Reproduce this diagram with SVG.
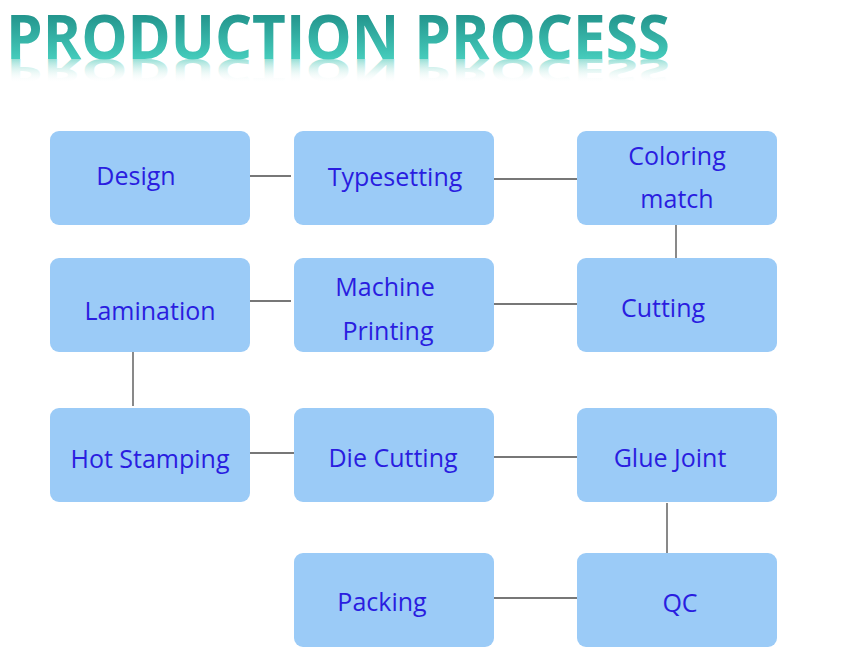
<svg xmlns="http://www.w3.org/2000/svg" width="846" height="653" viewBox="0 0 846 653">
<defs>
<linearGradient id="tg" x1="0" y1="15" x2="0" y2="58" gradientUnits="userSpaceOnUse">
<stop offset="0" stop-color="#23958d"/>
<stop offset="1" stop-color="#45cbbb"/>
</linearGradient>
<linearGradient id="rg" x1="0" y1="15" x2="0" y2="58" gradientUnits="userSpaceOnUse">
<stop offset="0" stop-color="#ffffff" stop-opacity="0"/>
<stop offset="0.45" stop-color="#bfeae4" stop-opacity="0.3"/>
<stop offset="1" stop-color="#6fd3c6" stop-opacity="0.7"/>
</linearGradient>
<style>
.box{fill:#9bcbf7;}
.lbl{font-family:"Open Sans","Noto Sans",sans-serif;font-size:25px;fill:#2a1de0;text-anchor:middle;}
.ln{stroke:#4a4a4a;stroke-width:1.3;fill:none;}
.title{font-family:"Open Sans","DejaVu Sans",sans-serif;font-weight:bold;font-size:60px;}
</style>
</defs>
<rect width="846" height="653" fill="#ffffff"/>
<g id="title">
<text class="title" x="6" y="59" fill="url(#tg)" textLength="664" lengthAdjust="spacingAndGlyphs">PRODUCTION PROCESS</text>
<g transform="translate(0,59) scale(1,-0.55) translate(0,-59)">
<text class="title" x="6" y="59" fill="url(#rg)" textLength="664" lengthAdjust="spacingAndGlyphs">PRODUCTION PROCESS</text>
</g>
</g>
<g id="connectors">
<line class="ln" x1="250" y1="176" x2="291" y2="176"/>
<line class="ln" x1="494" y1="179" x2="577" y2="179"/>
<line class="ln" x1="676" y1="225" x2="676" y2="258"/>
<line class="ln" x1="250" y1="301" x2="291" y2="301"/>
<line class="ln" x1="494" y1="304" x2="577" y2="304"/>
<line class="ln" x1="133" y1="352" x2="133" y2="406"/>
<line class="ln" x1="250" y1="453" x2="296" y2="453"/>
<line class="ln" x1="494" y1="457" x2="577" y2="457"/>
<line class="ln" x1="667" y1="503" x2="667" y2="555"/>
<line class="ln" x1="494" y1="598" x2="577" y2="598"/>
</g>
<g id="design"><rect class="box" x="50" y="131" width="200" height="94" rx="9"/><text class="lbl" x="136" y="185">Design</text></g>
<g id="typesetting"><rect class="box" x="294" y="131" width="200" height="94" rx="9"/><text class="lbl" x="395" y="186">Typesetting</text></g>
<g id="coloring"><rect class="box" x="577" y="131" width="200" height="94" rx="9"/><text class="lbl" x="677" y="165">Coloring</text><text class="lbl" x="677" y="208">match</text></g>
<g id="lamination"><rect class="box" x="50" y="258" width="200" height="94" rx="9"/><text class="lbl" x="150" y="320">Lamination</text></g>
<g id="machine-printing"><rect class="box" x="294" y="258" width="200" height="94" rx="9"/><text class="lbl" x="385" y="296">Machine</text><text class="lbl" x="388" y="340">Printing</text></g>
<g id="cutting"><rect class="box" x="577" y="258" width="200" height="94" rx="9"/><text class="lbl" x="663" y="317">Cutting</text></g>
<g id="hot-stamping"><rect class="box" x="50" y="408" width="200" height="94" rx="9"/><text class="lbl" x="150" y="468">Hot Stamping</text></g>
<g id="die-cutting"><rect class="box" x="294" y="408" width="200" height="94" rx="9"/><text class="lbl" x="393" y="467">Die Cutting</text></g>
<g id="glue-joint"><rect class="box" x="577" y="408" width="200" height="94" rx="9"/><text class="lbl" x="670" y="467">Glue Joint</text></g>
<g id="packing"><rect class="box" x="294" y="553" width="200" height="94" rx="9"/><text class="lbl" x="382" y="611">Packing</text></g>
<g id="qc"><rect class="box" x="577" y="553" width="200" height="94" rx="9"/><text class="lbl" x="680" y="612">QC</text></g>
</svg>
